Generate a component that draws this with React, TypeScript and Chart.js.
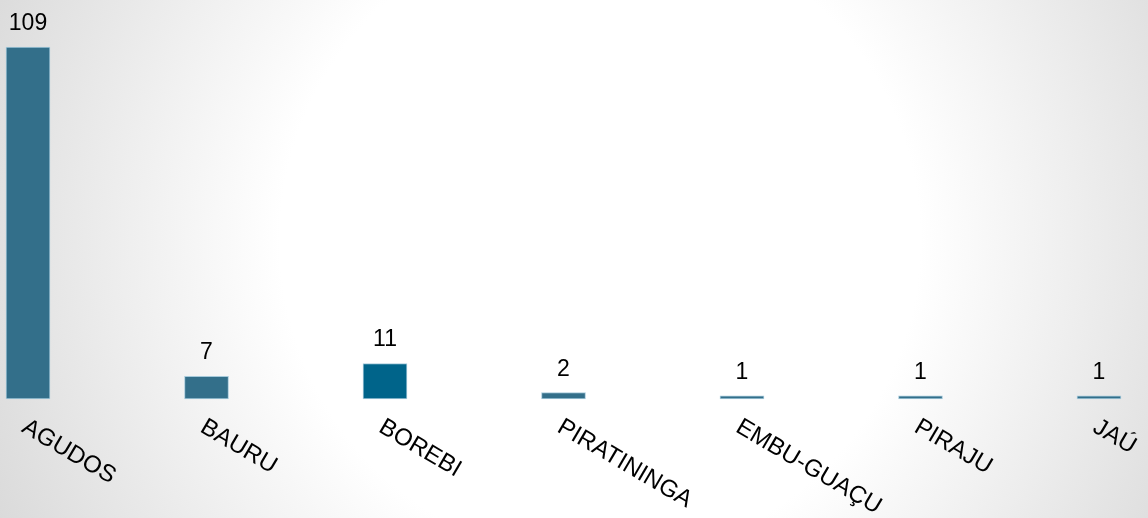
import React, { useEffect, useRef } from "react";
import Chart from "chart.js/auto";

const categories = ["AGUDOS", "BAURU", "BOREBI", "PIRATININGA", "EMBU-GUAÇU", "PIRAJU", "JAÚ"];
const values = [109, 7, 11, 2, 1, 1, 1];
const yMax = 109;

const FONT = "'Liberation Sans', Arial, sans-serif";

export default function App() {
  const ref = useRef<HTMLCanvasElement>(null);
  useEffect(() => {
    const canvas = ref.current!;
    const labelPlugin = {
      id: "customLabels",
      afterDatasetsDraw(chart: any) {
        const ctx = chart.ctx;
        const meta = chart.getDatasetMeta(0);
        const xs = chart.scales.x;
        ctx.save();
        ctx.fillStyle = "#000";
        ctx.font = `23px ${FONT}`;
        ctx.textAlign = "center";
        ctx.textBaseline = "alphabetic";
        meta.data.forEach((bar: any, i: number) => {
          ctx.fillText(String(values[i]), bar.x, bar.y - 17);
        });
        const base = chart.chartArea.bottom;
        ctx.font = `24px ${FONT}`;
        categories.forEach((c, i) => {
          const x = xs.getPixelForValue(i);
          ctx.save();
          ctx.translate(x + 2, base + 16);
          ctx.rotate((30.5 * Math.PI) / 180);
          ctx.textAlign = "left";
          ctx.textBaseline = "top";
          ctx.fillText(c, 0, 0);
          ctx.restore();
        });
        ctx.restore();
      },
    };
    const chart = new Chart(canvas, {
      type: "bar",
      data: {
        labels: categories,
        datasets: [
          {
            data: values,
            backgroundColor: (ctx: any) => {
              if (ctx.dataIndex === 2 && ctx.chart.chartArea) {
                const el = ctx.element;
                const c = ctx.chart.ctx;
                if (el && el.x !== undefined) {
                  const g = c.createLinearGradient(el.x - 22, el.y, el.x + 22, el.base);
                  g.addColorStop(0, "#004e6c");
                  g.addColorStop(1, "#0079a3");
                  return g;
                }
                return "#00648a";
              }
              return "#336f8a";
            },
            borderColor: "#a6cadb",
            borderWidth: 1,
            borderSkipped: false,
            barThickness: 44,
            clip: false,
          } as any,
        ],
      },
      options: {
        animation: false,
        responsive: false,
        maintainAspectRatio: false,
        layout: { padding: { left: 28, right: 49, top: 47, bottom: 119 } },
        plugins: { legend: { display: false }, tooltip: { enabled: false } },
        scales: {
          x: { type: "category", offset: false, display: false, grid: { display: false } },
          y: { min: 0, max: yMax, display: false, grid: { display: false } },
        },
      },
      plugins: [labelPlugin],
    });
    return () => chart.destroy();
  }, []);
  return (
    <div
      style={{
        position: "fixed",
        left: 0,
        top: 0,
        width: 1148,
        height: 518,
        background:
          "radial-gradient(circle at 600px 240px, #ffffff 0px, #ffffff 320px, #d4d4d4 720px)",
      }}
    >
      <canvas ref={ref} width={1148} height={518} style={{ display: "block", width: 1148, height: 518 }} />
    </div>
  );
}
